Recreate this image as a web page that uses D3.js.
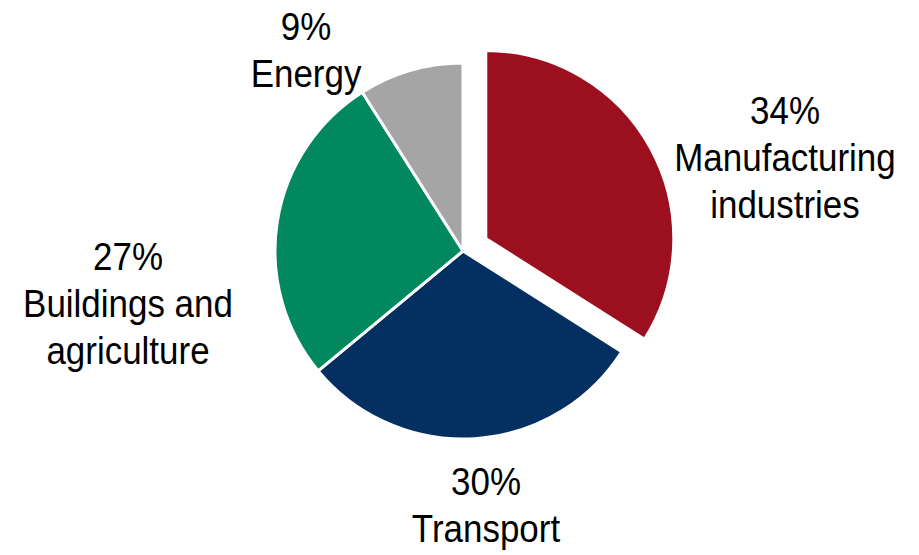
<!DOCTYPE html>
<html lang="en">
<head>
    <meta charset="utf-8">
    <title>Emissions by sector</title>
    <script src="https://d3js.org/d3.v7.min.js"></script>
    <style>
        body { margin: 0; background: #fff; }
        text { font-family: "Liberation Sans", Arial, sans-serif; fill: #000; }
    </style>
</head>
<body>
    <div id="chart"></div>
    <script>
        // chart data
        var sectors = ["Manufacturing industries", "Transport", "Buildings and agriculture", "Energy"]
        var labelLines = [["Manufacturing", "industries"], ["Transport"], ["Buildings and", "agriculture"], ["Energy"]]
        var shares = [34, 30, 27, 9]
        var colors = ["#9c0f1f", "#043061", "#02885e", "#a5a5a5"]

        var width = 919, height = 555
        var cx = 463, cy = 251, radius = 188
        var explode = 26
        var fontSize = 38, lineH = 47

        // first-line baseline of each label, relative to pie center
        var labelPos = [[322, -127], [23, 244], [-335, 19], [-157, -211]]

        var svg = d3.select("#chart").append("svg")
            .attr("width", width)
            .attr("height", height)

        var g = svg.append("g")
            .attr("transform", "translate(" + cx + "," + cy + ")")

        var pie = d3.pie().sort(null).value(function (d) { return d })
        var slices = pie(shares)

        var arc = d3.arc().innerRadius(0).outerRadius(radius)

        g.selectAll("path.slice")
            .data(slices)
            .enter()
            .append("path")
            .attr("class", "slice")
            .attr("d", arc)
            .attr("fill", function (d, i) { return colors[i] })
            .attr("stroke", "#fff")
            .attr("stroke-width", 3)
            .attr("stroke-linejoin", "round")
            .attr("transform", function (d, i) {
                // pull the biggest slice out
                if (i != 0) return null
                var a = (d.startAngle + d.endAngle) / 2
                return "translate(" + (Math.sin(a) * explode) + "," + (-Math.cos(a) * explode) + ")"
            })

        // labels: percent line + name lines
        var labels = g.selectAll("g.label")
            .data(slices)
            .enter()
            .append("g")
            .attr("class", "label")
            .attr("transform", function (d, i) {
                return "translate(" + labelPos[i][0] + "," + labelPos[i][1] + ") scale(0.92,1)"
            })

        labels.each(function (d, i) {
            var lines = [shares[i] + "%"].concat(labelLines[i])
            d3.select(this).selectAll("text")
                .data(lines)
                .enter()
                .append("text")
                .attr("text-anchor", "middle")
                .attr("y", function (t, j) { return j * lineH })
                .style("font-size", fontSize + "px")
                .text(function (t) { return t })
        })
    </script>
</body>
</html>
